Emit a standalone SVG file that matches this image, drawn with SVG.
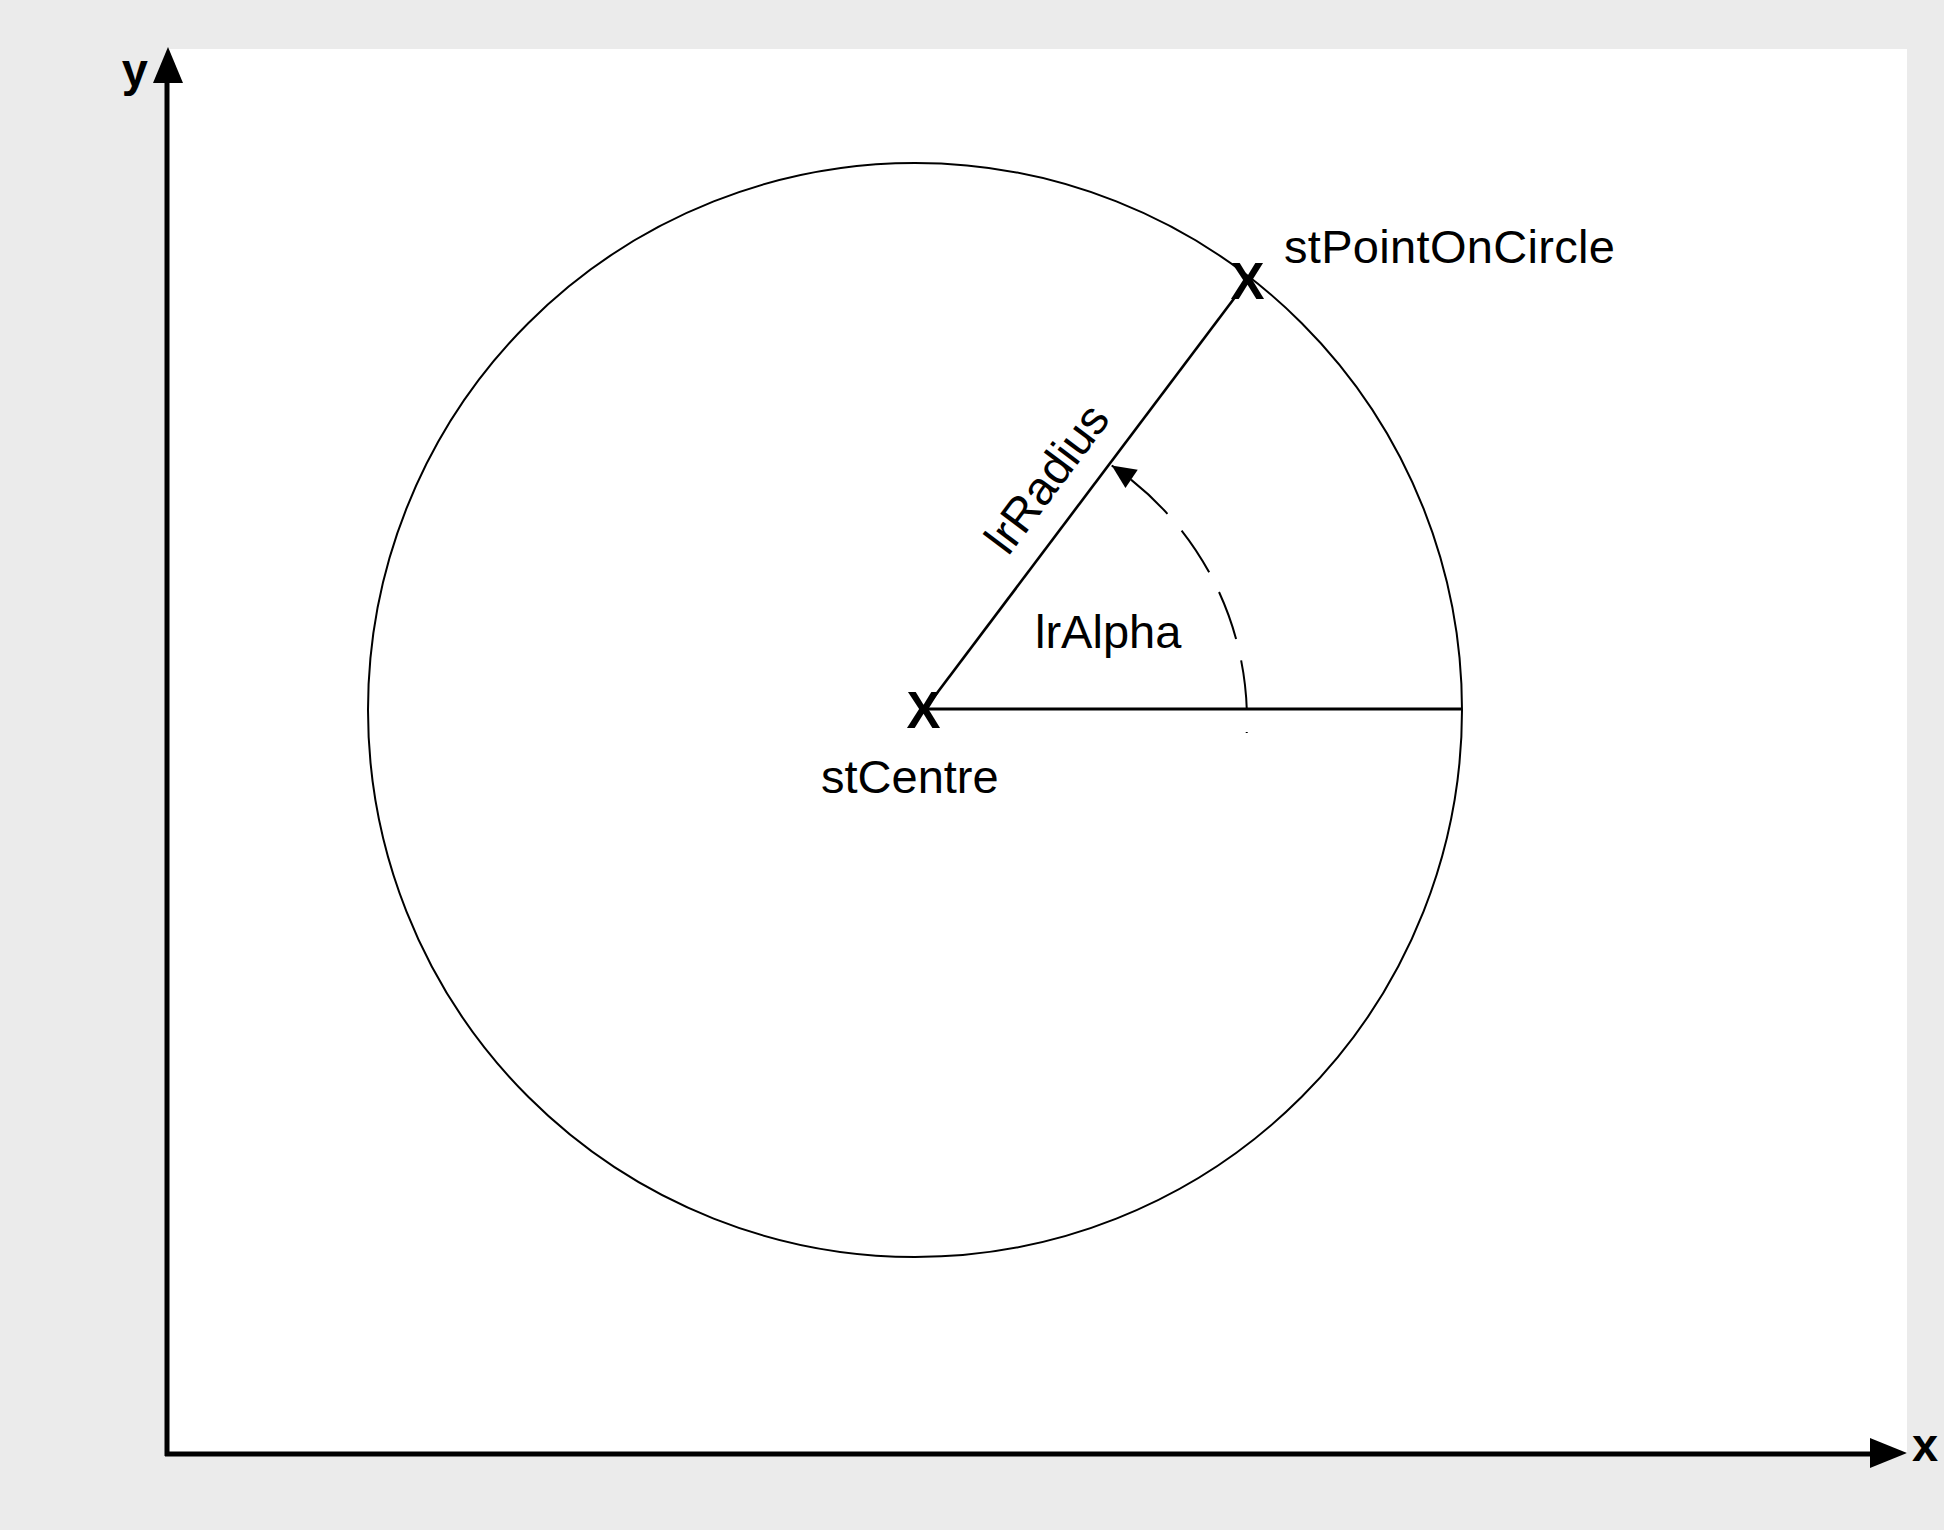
<svg xmlns="http://www.w3.org/2000/svg" width="1944" height="1530" viewBox="0 0 1944 1530">
  <style>
    .lbl { font-family: "Liberation Sans", Arial, sans-serif; font-size: 47px; fill: #000; }
    .axl { font-family: "Liberation Sans", Arial, sans-serif; font-size: 47px; font-weight: bold; fill: #000; }
    .mark { font-family: "Liberation Sans", Arial, sans-serif; font-size: 51px; font-weight: bold; fill: #000; text-anchor: middle; }
    .thin { fill: none; stroke: #000; stroke-width: 2; }
    .axis { fill: none; stroke: #000; stroke-width: 5; }
  </style>
  <defs>
    <marker id="arr" markerUnits="userSpaceOnUse" markerWidth="24" markerHeight="22" refX="24" refY="11" orient="auto" overflow="visible">
      <path d="M0,0 L24,11 L0,22 z" fill="#000"/>
    </marker>
  </defs>
  <rect x="0" y="0" width="1944" height="1530" fill="#ebebeb"/>
  <rect x="167" y="49" width="1740" height="1405" fill="#fff"/>

  <g id="axes">
    <line class="axis" x1="167" y1="1456" x2="167" y2="80"/>
    <polygon points="168,47 153,83 183,83" fill="#000"/>
    <line class="axis" x1="165" y1="1454" x2="1872" y2="1454"/>
    <polygon points="1907,1453 1870,1438 1870,1468" fill="#000"/>
    <text class="axl" x="148" y="86" text-anchor="end">y</text>
    <text class="axl" x="1912" y="1461">x</text>
  </g>

  <g id="circle">
    <circle class="thin" cx="915" cy="710" r="547"/>
  </g>

  <g id="connectors">
    <line id="radius" x1="925" y1="709" x2="1248" y2="280" stroke="#000" stroke-width="2.6"/>
    <line id="baseline" x1="925" y1="709" x2="1462" y2="709" stroke="#000" stroke-width="3"/>
    <path id="alpha-arc" d="M1246.7,733 A307,307 0 0 0 1111.7,465.5" fill="none" stroke="#000" stroke-width="2" stroke-dasharray="50 22" stroke-dashoffset="49" marker-end="url(#arr)"/>
  </g>

  <g id="stCentre">
    <text class="mark" x="923.5" y="728">X</text>
    <text class="lbl" x="821" y="793">stCentre</text>
  </g>

  <g id="stPointOnCircle">
    <text class="mark" x="1247.5" y="299">X</text>
    <text class="lbl" x="1284" y="263" textLength="331" lengthAdjust="spacing">stPointOnCircle</text>
  </g>

  <g id="lrRadius">
    <text class="lbl" transform="translate(1008,557) rotate(-53.13)">lrRadius</text>
  </g>

  <g id="lrAlpha">
    <text class="lbl" x="1035" y="648">lrAlpha</text>
  </g>
</svg>
